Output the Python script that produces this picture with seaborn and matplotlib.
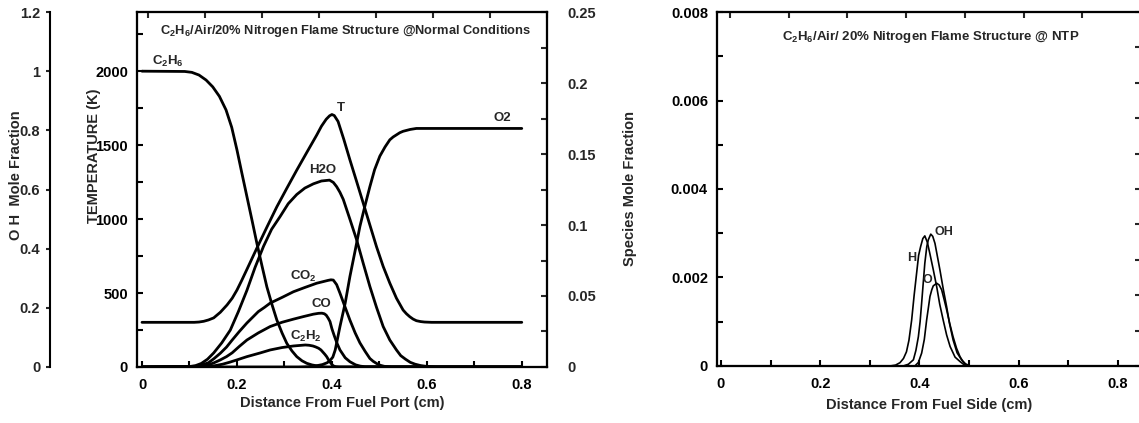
import matplotlib
matplotlib.use("Agg")
import matplotlib.pyplot as plt
import seaborn as sns
from matplotlib.ticker import MultipleLocator, FuncFormatter, FixedLocator, NullFormatter

# --- Left panel: flame structure (distance from fuel port, cm) ---
T_x = [0.0, 0.11, 0.12, 0.13, 0.14, 0.151, 0.165, 0.179, 0.19, 0.2, 0.21, 0.221, 0.242, 0.263,
       0.284, 0.305, 0.326, 0.347, 0.368, 0.378, 0.388, 0.395, 0.40, 0.405, 0.413, 0.425,
       0.438, 0.452, 0.466, 0.48, 0.494, 0.508, 0.522, 0.536, 0.55, 0.557, 0.564, 0.571,
       0.578, 0.587, 0.595, 0.61, 0.8]
T_y = [302, 302, 304, 309, 318, 332, 370, 419, 465, 520, 585, 660, 804, 945,
       1083, 1208, 1331, 1450, 1568, 1628, 1675, 1698, 1707, 1700, 1660, 1540,
       1400, 1255, 1108, 960, 813, 680, 567, 465, 385, 360, 340, 324,
       313, 307, 304, 302, 302]

C2H6_x = [0.0, 0.09, 0.105, 0.12, 0.135, 0.149, 0.163, 0.177, 0.189, 0.2, 0.21, 0.221, 0.232,
          0.242, 0.253, 0.263, 0.274, 0.284, 0.295, 0.305, 0.316, 0.326, 0.337, 0.347, 0.358,
          0.368, 0.38, 0.39, 0.8]
C2H6_y = [1.0, 0.999, 0.996, 0.987, 0.97, 0.947, 0.915, 0.869, 0.81, 0.734, 0.658, 0.576, 0.494,
          0.418, 0.34, 0.271, 0.21, 0.159, 0.115, 0.080, 0.054, 0.035, 0.021, 0.0125, 0.007,
          0.004, 0.001, 0.0, 0.0]

H2O_x = [0.0, 0.10, 0.113, 0.125, 0.138, 0.151, 0.168, 0.186, 0.203, 0.221, 0.238, 0.256, 0.273,
         0.291, 0.308, 0.326, 0.343, 0.361, 0.378, 0.395, 0.403, 0.41, 0.417, 0.424, 0.438,
         0.452, 0.466, 0.48, 0.494, 0.508, 0.522, 0.536, 0.545, 0.555, 0.565, 0.575, 0.587,
         0.6, 0.62, 0.8]
H2O_y = [0.0, 0.0003, 0.001, 0.0025, 0.0055, 0.0099, 0.017, 0.026, 0.039, 0.054, 0.070, 0.085, 0.097,
         0.106, 0.115, 0.1215, 0.126, 0.129, 0.131, 0.1316, 0.130, 0.127, 0.123, 0.118, 0.104,
         0.0897, 0.073, 0.0567, 0.042, 0.0285, 0.019, 0.012, 0.008, 0.0055, 0.0033, 0.002, 0.001,
         0.0004, 0.0, 0.0]

CO2_x = [0.0, 0.11, 0.125, 0.14, 0.152, 0.165, 0.178, 0.19, 0.205, 0.221, 0.233, 0.245, 0.258,
         0.27, 0.295, 0.319, 0.343, 0.368, 0.38, 0.392, 0.398, 0.403, 0.41, 0.417, 0.428,
         0.438, 0.449, 0.459, 0.47, 0.48, 0.487, 0.494, 0.502, 0.51, 0.525, 0.8]
CO2_y = [0.0, 0.0003, 0.0013, 0.003, 0.006, 0.0097, 0.014, 0.019, 0.025, 0.031, 0.035, 0.039, 0.042,
         0.045, 0.049, 0.053, 0.056, 0.059, 0.060, 0.061, 0.0614, 0.0612, 0.058, 0.052, 0.042,
         0.033, 0.024, 0.017, 0.011, 0.006, 0.004, 0.0025, 0.0012, 0.0005, 0.0, 0.0]

CO_x = [0.0, 0.12, 0.13, 0.14, 0.152, 0.165, 0.178, 0.19, 0.205, 0.221, 0.245, 0.27, 0.295,
        0.319, 0.34, 0.361, 0.372, 0.379, 0.384, 0.388, 0.392, 0.396, 0.40, 0.405, 0.411,
        0.417, 0.428, 0.438, 0.45, 0.46, 0.47, 0.8]
CO_y = [0.0, 0.0002, 0.0008, 0.0015, 0.003, 0.005, 0.0073, 0.010, 0.0145, 0.019, 0.024, 0.0285, 0.0315,
        0.0337, 0.0355, 0.0372, 0.0378, 0.0379, 0.0375, 0.0365, 0.0345, 0.032, 0.027, 0.022, 0.0165,
        0.012, 0.0065, 0.0037, 0.0015, 0.0006, 0.0002, 0.0]

C2H2_x = [0.0, 0.14, 0.155, 0.17, 0.185, 0.2, 0.221, 0.249, 0.27, 0.295, 0.319, 0.333, 0.344,
          0.352, 0.36, 0.366, 0.372, 0.377, 0.381, 0.385, 0.389, 0.393, 0.396, 0.40, 0.403,
          0.408, 0.415, 0.8]
C2H2_y = [0.0, 0.0003, 0.001, 0.002, 0.0034, 0.005, 0.0073, 0.0099, 0.012, 0.0137, 0.0148, 0.0152, 0.0155,
          0.0153, 0.0148, 0.0141, 0.0132, 0.012, 0.0105, 0.009, 0.0073, 0.005, 0.0035, 0.0018, 0.0008,
          0.0002, 0.0, 0.0]

O2_x = [0.0, 0.33, 0.35, 0.365, 0.38, 0.39, 0.396, 0.402, 0.407, 0.417, 0.428, 0.438, 0.449,
        0.459, 0.47, 0.48, 0.49, 0.501, 0.512, 0.522, 0.529, 0.536, 0.543, 0.55, 0.565,
        0.578, 0.6, 0.8]
O2_y = [0.0, 0.0, 0.0002, 0.0007, 0.0017, 0.003, 0.0045, 0.007, 0.012, 0.0285, 0.045, 0.0638, 0.082,
        0.099, 0.114, 0.127, 0.139, 0.1485, 0.155, 0.160, 0.162, 0.1635, 0.165, 0.166, 0.1673,
        0.168, 0.168, 0.168]

# --- Right panel: radicals (distance from fuel side, cm) ---
H_x = [0.0, 0.341, 0.352, 0.361, 0.368, 0.374, 0.379, 0.3845, 0.3895, 0.3945, 0.3985, 0.4026,
       0.407, 0.411, 0.416, 0.421, 0.428, 0.435, 0.441, 0.448, 0.455, 0.462, 0.472, 0.482,
       0.49, 0.498, 0.8]
H_y = [0.0, 0.0, 0.00002, 0.000075, 0.00017, 0.00032, 0.00058, 0.00104, 0.0016, 0.0021, 0.0025, 0.0027,
       0.00288, 0.00294, 0.0028, 0.00255, 0.00218, 0.00179, 0.0014, 0.00104, 0.0007, 0.00044, 0.0002, 0.0001,
       0.00003, 0.0, 0.0]

OH_x = [0.0, 0.3676, 0.378, 0.388, 0.393, 0.398, 0.4015, 0.4046, 0.408, 0.411, 0.415, 0.418,
        0.423, 0.427, 0.4315, 0.436, 0.4415, 0.448, 0.455, 0.461, 0.468, 0.476, 0.485, 0.493,
        0.502, 0.8]
OH_y = [0.0, 0.0, 0.00004, 0.00014, 0.00035, 0.00066, 0.001, 0.00142, 0.0019, 0.00232, 0.0027, 0.00285,
        0.00298, 0.00293, 0.00277, 0.0025, 0.00217, 0.00175, 0.00134, 0.00095, 0.00059, 0.0003, 0.00014, 0.00005,
        0.0, 0.0]

O_x = [0.0, 0.391, 0.398, 0.4046, 0.41, 0.4147, 0.418, 0.4214, 0.425, 0.428, 0.435, 0.44,
       0.445, 0.45, 0.455, 0.461, 0.468, 0.475, 0.482, 0.488, 0.495, 0.8]
O_y = [0.0, 0.0, 0.00008, 0.00029, 0.0006, 0.00104, 0.0013, 0.00157, 0.00172, 0.00181, 0.00187, 0.00183,
       0.00172, 0.0015, 0.00127, 0.00097, 0.00066, 0.0004, 0.00021, 0.0001, 0.0, 0.0]

sns.set_style("ticks")
plt.rcParams['font.family'] = ['Liberation Sans', 'DejaVu Sans']
plt.rcParams['font.weight'] = 'bold'
plt.rcParams['axes.labelweight'] = 'bold'
plt.rcParams['mathtext.fontset'] = 'custom'
plt.rcParams['mathtext.rm'] = 'Liberation Sans:bold'
plt.rcParams['mathtext.bf'] = 'Liberation Sans:bold'
plt.rcParams['mathtext.default'] = 'bf'

fmt = FuncFormatter(lambda v, _: f"{v:g}")
K = 'black'
FS = 10.5


def line(ax, x, y, lw=2.0):
    sns.lineplot(x=x, y=y, ax=ax, color=K, linewidth=lw, estimator=None, sort=False)


fig = plt.figure(figsize=(11.39, 4.23), dpi=100)

# ---------- left panel ----------
ax = fig.add_axes([0.1203, 0.1324, 0.3599, 0.8392])
ax_r = ax.twinx()
ax_oh = ax.twinx()
ax_top = ax.twiny()

line(ax, T_x, T_y)
line(ax_oh, C2H6_x, C2H6_y)
for xs, ys in [(H2O_x, H2O_y), (CO2_x, CO2_y), (CO_x, CO_y), (C2H2_x, C2H2_y), (O2_x, O2_y)]:
    line(ax_r, xs, ys)

ax.set_xlim(-0.0105, 0.853)
ax.set_ylim(0, 2400)
ax.xaxis.set_major_locator(FixedLocator([0, 0.2, 0.4, 0.6, 0.8]))
ax.xaxis.set_minor_locator(MultipleLocator(0.1))
ax.yaxis.set_major_locator(FixedLocator([0, 500, 1000, 1500, 2000]))
ax.yaxis.set_minor_locator(MultipleLocator(250))
ax.xaxis.set_major_formatter(fmt)
ax.yaxis.set_major_formatter(fmt)
ax.tick_params(which='both', direction='in', width=1.5, length=4, labelsize=FS, colors=K)
ax.tick_params(axis='y', pad=6.5)
ax.tick_params(axis='x', pad=8)
ax.set_xlabel("Distance From Fuel Port (cm)", fontsize=FS, labelpad=3)
ax.set_ylabel("TEMPERATURE (K)", fontsize=FS)
ax.yaxis.set_label_coords(-0.088, 0.594)

ax_r.set_ylim(0, 0.25)
ax_r.yaxis.set_major_locator(MultipleLocator(0.05))
ax_r.yaxis.set_minor_locator(MultipleLocator(0.025))
ax_r.yaxis.set_major_formatter(fmt)
ax_r.tick_params(which='both', direction='in', width=1.5, length=4, labelsize=FS, pad=14.4)

ax_oh.set_ylim(0, 1.2)
for s in ['right', 'top', 'bottom']:
    ax_oh.spines[s].set_visible(False)
ax_oh.spines['left'].set_visible(True)
ax_oh.spines['left'].set_position(('outward', 62.6))
ax_oh.yaxis.tick_left()
ax_oh.yaxis.set_label_position('left')
ax_oh.yaxis.set_major_locator(MultipleLocator(0.2))
ax_oh.yaxis.set_major_formatter(fmt)
ax_oh.tick_params(which='both', direction='out', width=1.5, length=3, labelsize=FS, pad=4)
ax_oh.set_ylabel("O H  Mole Fraction", fontsize=FS)
ax_oh.yaxis.set_label_coords(-0.278, 0.54)

ax_top.set_xlim(-0.019, 0.7)
ax_top.xaxis.set_major_locator(MultipleLocator(0.1))
ax_top.xaxis.set_major_formatter(NullFormatter())
ax_top.tick_params(direction='in', width=1.5, length=4)

for a in [ax, ax_r, ax_top]:
    for s in a.spines.values():
        s.set_linewidth(1.5)
        s.set_color(K)
ax_oh.spines['left'].set_linewidth(1.5)
ax_oh.spines['left'].set_color(K)

ax.text(0.51, 0.946, r"C$_2$H$_6$/Air/20% Nitrogen Flame Structure @Normal Conditions",
        transform=ax.transAxes, ha='center', va='center', fontsize=9.3)
labels_left = [(0.055, 2068, r"C$_2$H$_6$"), (0.419, 1750, "T"), (0.758, 1682, "O2"),
               (0.381, 1331, "H2O"), (0.339, 615, r"CO$_2$"), (0.377, 426, "CO"),
               (0.345, 209, r"C$_2$H$_2$")]
for lx, ly, lt in labels_left:
    ax.text(lx, ly, lt, ha='center', va='center', fontsize=9.5)

# ---------- right panel ----------
ax2 = fig.add_axes([0.6295, 0.1348, 0.3723, 0.8368])
ax2_r = ax2.twinx()
ax2_top = ax2.twiny()

for xs, ys in [(H_x, H_y), (OH_x, OH_y), (O_x, O_y)]:
    line(ax2, xs, ys, lw=1.2)

ax2.set_xlim(-0.008, 0.847)
ax2.set_ylim(0, 0.008)
ax2.xaxis.set_major_locator(FixedLocator([0, 0.2, 0.4, 0.6, 0.8]))
ax2.xaxis.set_minor_locator(MultipleLocator(0.1))
ax2.yaxis.set_major_locator(MultipleLocator(0.002))
ax2.yaxis.set_minor_locator(MultipleLocator(0.001))
ax2.xaxis.set_major_formatter(fmt)
ax2.yaxis.set_major_formatter(fmt)
ax2.tick_params(which='both', direction='in', width=1.5, length=4, labelsize=FS, colors=K)
ax2.tick_params(axis='y', pad=6.5)
ax2.tick_params(axis='x', pad=8)
ax2.set_xlabel("Distance From Fuel Side (cm)", fontsize=FS, labelpad=5)
ax2.set_ylabel("Species Mole Fraction", fontsize=FS)
ax2.yaxis.set_label_coords(-0.189, 0.5)

ax2_r.set_ylim(0, 0.25)
ax2_r.yaxis.set_major_locator(MultipleLocator(0.025))
ax2_r.yaxis.set_major_formatter(NullFormatter())
ax2_r.tick_params(direction='in', width=1.5, length=4)

ax2_top.set_xlim(-0.0221, 0.700)
ax2_top.xaxis.set_major_locator(MultipleLocator(0.1))
ax2_top.xaxis.set_major_formatter(NullFormatter())
ax2_top.tick_params(direction='in', width=1.5, length=4)

for a in [ax2, ax2_r, ax2_top]:
    for s in a.spines.values():
        s.set_linewidth(1.5)
        s.set_color(K)

ax2.text(0.505, 0.929, r"C$_2$H$_6$/Air/ 20% Nitrogen Flame Structure @ NTP",
         transform=ax2.transAxes, ha='center', va='center', fontsize=9.5)
labels_right = [(0.45, 0.00303, "OH"), (0.385, 0.00244, "H"), (0.417, 0.00194, "O")]
for lx, ly, lt in labels_right:
    ax2.text(lx, ly, lt, ha='center', va='center', fontsize=9)

fig.savefig("out.png", dpi=100)
